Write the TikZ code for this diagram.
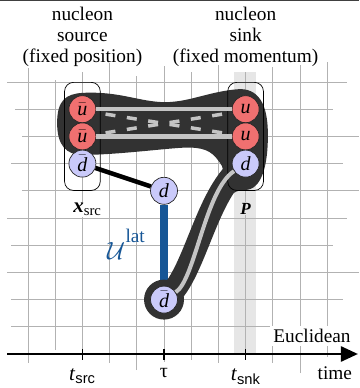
\documentclass[tikz,border=0pt]{standalone}
\usepackage{fontspec}
\setmainfont{Liberation Serif}
\setsansfont{Liberation Sans}
\usetikzlibrary{positioning,arrows.meta,fit,backgrounds}
\definecolor{tubegray}{RGB}{50,50,50}
\definecolor{linegray}{RGB}{196,196,196}
\definecolor{gridgray}{RGB}{178,178,178}
\definecolor{bandgray}{RGB}{230,230,230}
\definecolor{qred}{RGB}{240,112,112}
\definecolor{qblue}{RGB}{202,202,250}
\definecolor{latblue}{RGB}{22,86,150}
\newcommand{\qbar}[1]{$\bar{\textit{#1}}$}

\begin{document}
\begin{tikzpicture}[x=27.2pt,y=27.2pt,
        quark/.style={circle,draw=black!85,line width=0.7pt,minimum size=27pt,inner sep=0pt,
                      font=\fontsize{20}{20}\selectfont},
        qr/.style={quark,fill=qred},
        qb/.style={quark,fill=qblue},
        title/.style={align=center,inner sep=0pt,font=\fontsize{19.3}{21}\selectfont},
        lbl/.style={inner sep=1pt,font=\fontsize{21}{21}\selectfont},
        hadbox/.style={draw,rounded corners=9pt,line width=0.7pt,inner xsep=4pt,inner ysep=13pt},
        gridline/.style={gridgray,line width=1pt},
        qline/.style={linegray,line width=4.5pt},
        ulat/.style={latblue,line width=8.5pt},
        arr/.style={-{Triangle[length=17pt,width=15pt]},line width=2.6pt}]
    \useasboundingbox (-3.03,-1.25) rectangle (10.17,13.015);
    \draw[black!75,line width=1.2pt] (-3.03,12.99) -- (10.17,12.99);
    % quarks at source, sink and on the lattice link
    \node[qr] (src1) at (0,9) {\qbar{u}};
    \node[qr] (src2) at (0,8) {\qbar{u}};
    \node[qb] (src3) at (0,7) {\qbar{d}};
    \node[qr] (snk1) at (6,9) {\textit{u}};
    \node[qr] (snk2) at (6,8) {\textit{u}};
    \node[qb] (snk3) at (6,7) {\textit{d}};
    \node[qb] (dmid) at (3,6) {\textit{d}};
    \node[qb] (dbmid) at (3,2) {\qbar{d}};
    \node[hadbox,fit=(src1)(src3)] (srcbox) {};
    \node[hadbox,fit=(snk1)(snk3)] (snkbox) {};
    \coordinate (xa) at (0.85,8.82); \coordinate (xb) at (5.15,8.13);
    \coordinate (xc) at (0.85,8.13); \coordinate (xd) at (5.15,8.82);
    \begin{scope}[on background layer]
        \fill[bandgray] (5.57,0) rectangle (6.38,10.37);
        \foreach \cx/\ya/\yb in {-2/10.51/-0.33,-1/10.07/0.15,0/10.37/-0.22,1/10.70/-0.33,
                2/10.22/-0.59,3/10.59/-0.29,4/10.37/-0.22,5/10.62/-0.33,6/10.37/0,
                7/10.55/-0.33,8/10.62/-0.70,9/10.74/-0.11}
            \draw[gridline] (\cx,\yb) -- (\cx,\ya);
        \foreach \ry/\xa/\xb in {10/-2.77/9.73,9/-2.48/9.21,8/-2.22/10.17,7/-2.62/9.58,
                6/-2.22/10.17,5/-2.77/9.73,4/-2.62/9.21,3/-2.77/10.17,2/-2.62/9.58,1/-2.62/9.73}
            \draw[gridline] (\xa,\ry) -- (\xb,\ry);
        \draw[ulat] (dmid) -- (dbmid);
        % nucleon propagator
        \fill[tubegray] (-0.93,8.49) .. controls (-0.93,9.34) and (-0.60,9.56) .. (0,9.60)
            .. controls (1.38,9.67) and (2.12,9.26) .. (3.04,9.26)
            .. controls (3.96,9.26) and (4.69,9.67) .. (5.79,9.74)
            .. controls (6.60,9.74) and (6.82,8.97) .. (6.82,8.05)
            .. controls (6.82,6.95) and (6.60,6.03) .. (5.97,6.03)
            .. controls (5.72,6.03) and (5.58,5.95) .. (5.45,5.83)
            -- (5.13,6.91)
            .. controls (4.84,7.39) and (4.60,7.57) .. (3.96,7.59)
            .. controls (3.40,7.61) and (1.38,7.32) .. (0,7.32)
            .. controls (-0.60,7.32) and (-0.93,7.68) .. (-0.93,8.49) -- cycle;
        \draw[tubegray,line width=23pt] (snk3.center) .. controls (4.51,6.03) and (4.14,2.72) .. (dbmid.center);
        \fill[tubegray] (dbmid) circle (20pt);
    \end{scope}
    \draw[qline] (src1) -- (snk1);
    \draw[qline] (src2) -- (snk2);
    \draw[qline,line width=3.5pt,dash pattern=on 10pt off 11.6pt] (xa) -- (xb);
    \draw[qline,line width=3.5pt,dash pattern=on 10pt off 11.6pt] (xc) -- (xd);
    \draw[qline,line width=4pt] (snk3) .. controls (4.51,6.03) and (4.14,2.72) .. (dbmid);
    \draw[line width=4.5pt] (src3) -- (dmid);
    % labels
    \node[title] (srctitle) at (0,11.67) {nucleon\\source\\(fixed position)};
    \node[title] (snktitle) at (6,11.67) {nucleon\\sink\\(fixed momentum)};
    \node[lbl,fill=white,below=11pt of srcbox,xshift=5pt] (xsrc) {\textbf{\textit{x}}\textsubscript{src}};
    \node[lbl,fill=bandgray,font=\fontsize{17}{17}\selectfont,below=11pt of snkbox] (pmom) {\textbf{\textit{P}}};
    \node[text=latblue,anchor=base,inner sep=0pt] (ulabel) at (1.6,3.46)
        {\fontsize{43}{43}\selectfont$\mathcal{U}$\kern0.5pt\raisebox{17pt}{\fontsize{19.3}{20}\selectfont lat}};
    % time axis
    \draw[arr] (-2.77,0) -- (10.13,0);
    \foreach \cx in {0,3,6}
        \draw[line width=1.5pt] (\cx,-0.22) -- (\cx,0.2);
    \node[lbl] (tsrc) at (0,-0.83) {\textit{t}\textsubscript{\sffamily src}};
    \node[lbl,font=\fontsize{20}{20}\selectfont] (tau) at (3,-0.7) {τ};
    \node[lbl] (tsnk) at (6,-0.83) {\textit{t}\textsubscript{\sffamily snk}};
    \node[title] (time) at (9.28,-0.72) {time};
    \node[title,fill=white,inner sep=3pt] (eucl) at (8.44,0.66) {Euclidean};
\end{tikzpicture}
\end{document}
